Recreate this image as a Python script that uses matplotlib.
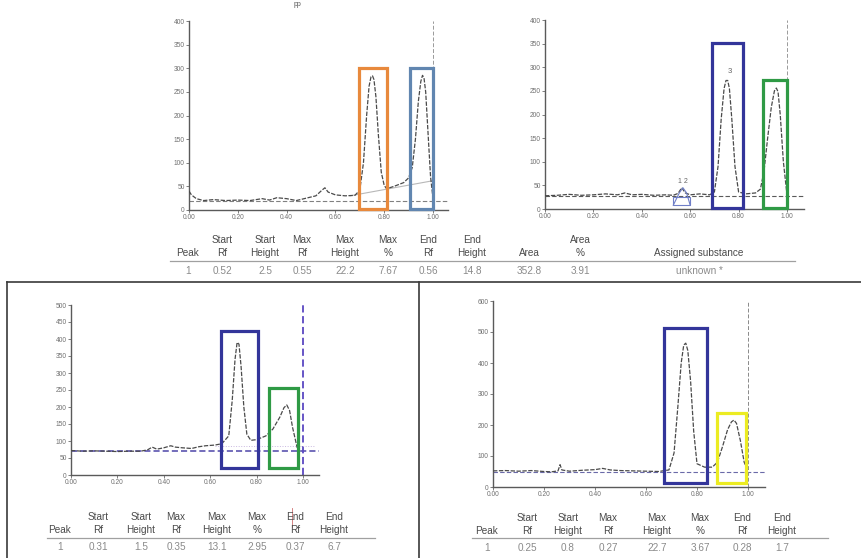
import matplotlib
matplotlib.use("Agg")
import matplotlib.pyplot as plt
import matplotlib.patches as mpatches

plt.rcParams['font.family'] = ['Liberation Sans', 'DejaVu Sans']

W, H = 862, 558

# ---- chromatogram traces (Rf, height) ----
# top left
rf_a = [0.00, 0.01, 0.03, 0.06, 0.10, 0.15, 0.20, 0.25, 0.30, 0.33, 0.36, 0.40, 0.44,
        0.48, 0.52, 0.545, 0.557, 0.57, 0.60, 0.64, 0.68, 0.70, 0.715, 0.728, 0.738, 0.746,
        0.752, 0.758, 0.766, 0.776, 0.788, 0.80, 0.81, 0.84, 0.88, 0.90, 0.915, 0.928,
        0.94, 0.95, 0.957, 0.963, 0.97, 0.98, 0.99, 1.00]
h_a = [40, 32, 24, 20, 22, 20, 21, 20, 24, 21, 26, 24, 20,
       25, 30, 42, 47, 38, 32, 30, 31, 42, 100, 200, 262, 282, 284, 276, 240, 160, 80, 52,
       45, 50, 58, 68, 90, 150, 230, 272, 285, 280, 250, 160, 70, 25]
rf_a2 = [0.66, 1.00]
h_a2 = [30, 62]
base_a = 19

# top right
rf_b = [0.00, 0.05, 0.10, 0.15, 0.20, 0.25, 0.30, 0.33, 0.36, 0.40, 0.45, 0.50, 0.53,
        0.55, 0.565, 0.58, 0.60, 0.64, 0.68, 0.70, 0.715, 0.728, 0.74, 0.748, 0.755, 0.762,
        0.772, 0.785, 0.80, 0.83, 0.87, 0.89, 0.905, 0.92, 0.935, 0.948, 0.956, 0.963,
        0.972, 0.985, 1.00]
h_b = [28, 29, 31, 29, 30, 32, 30, 34, 30, 31, 29, 30, 29,
       33, 45, 34, 30, 32, 30, 36, 90, 190, 255, 272, 272, 255, 190, 90, 36,
       32, 34, 42, 80, 150, 215, 250, 256, 248, 200, 100, 30]
base_b = 28

# bottom left
rf_c = [0.00, 0.05, 0.10, 0.15, 0.20, 0.25, 0.30, 0.33, 0.35, 0.37, 0.40, 0.43, 0.45,
        0.48, 0.52, 0.55, 0.58, 0.62, 0.65, 0.68, 0.695, 0.707, 0.716, 0.724, 0.733, 0.745,
        0.758, 0.775, 0.80, 0.84, 0.87, 0.90, 0.918, 0.93, 0.942, 0.955, 0.975]
h_c = [72, 70, 71, 70, 69, 70, 70, 74, 82, 76, 80, 86, 82,
       80, 78, 83, 86, 88, 92, 115, 220, 340, 390, 385, 320, 200, 120, 102,
       104, 115, 135, 170, 198, 206, 190, 140, 80]
base_c = 70
rf_c2 = [0.62, 1.05]
h_c2 = [86, 86]

# bottom right
rf_d = [0.00, 0.05, 0.10, 0.15, 0.20, 0.23, 0.255, 0.263, 0.27, 0.30, 0.35, 0.40, 0.43,
        0.46, 0.50, 0.55, 0.60, 0.65, 0.69, 0.71, 0.725, 0.738, 0.748, 0.756, 0.764, 0.775,
        0.787, 0.80, 0.83, 0.86, 0.88, 0.90, 0.92, 0.935, 0.945, 0.955, 0.97, 0.985, 1.00]
h_d = [52, 53, 51, 53, 50, 49, 52, 72, 55, 51, 54, 56, 60,
       55, 53, 52, 51, 50, 55, 110, 260, 400, 458, 464, 440, 340, 180, 75, 64,
       64, 80, 130, 185, 210, 216, 205, 150, 80, 52]
base_d = 48

# ---- boxes drawn on the traces: (Rf left, Rf right, bottom, top, colour) ----
boxes_a = [(0.695, 0.81, 2, 300, '#e8893c'), (0.905, 1.00, 2, 300, '#6186b0')]
boxes_b = [(0.69, 0.82, 2, 352, '#33359a'), (0.90, 1.00, 2, 272, '#2f9a45')]
boxes_c = [(0.647, 0.805, 20, 423, '#33359a'), (0.855, 0.977, 20, 257, '#2f9a45')]
boxes_d = [(0.671, 0.84, 14, 513, '#33359a'), (0.877, 0.992, 14, 238, '#ecec22')]

# ---- peak tables ----
top_cols = ['Peak', 'Start\nRf', 'Start\nHeight', 'Max\nRf', 'Max\nHeight', 'Max\n%',
            'End\nRf', 'End\nHeight', 'Area', 'Area\n%', 'Assigned substance']
top_vals = ['1', '0.52', '2.5', '0.55', '22.2', '7.67', '0.56', '14.8', '352.8', '3.91',
            'unknown *']
bl_cols = top_cols[:8]
bl_vals = ['1', '0.31', '1.5', '0.35', '13.1', '2.95', '0.37', '6.7']
br_cols = top_cols[:8]
br_vals = ['1', '0.25', '0.8', '0.27', '22.7', '3.67', '0.28', '1.7']

fig = plt.figure(figsize=(W / 100, H / 100), dpi=100)


def px_axes(x0, unit, xmax, ybot, ytop):
    # axes placed in pixel coordinates of the screenshot
    right = x0 + unit * xmax
    return fig.add_axes([x0 / W, 1 - ybot / H, (right - x0) / W, (ybot - ytop) / H])


def chrom(ax, rf, h, base, ymax, ystep, vcol, bcol, vlw=0.7, blw=0.8):
    ax.plot(rf, h, color='#4a4a4a', lw=0.9, ls=(0, (3.5, 1.2)), zorder=3)
    ax.axhline(base, color=bcol, lw=blw, ls=(0, (4, 2)), zorder=2)
    ax.axvline(1.0, color=vcol, lw=vlw, ls=(0, (4, 2)), zorder=2)
    ax.set_ylim(0, ymax)
    ax.set_yticks(range(0, ymax + 1, ystep))
    ax.set_xticks([0.0, 0.2, 0.4, 0.6, 0.8, 1.0])
    ax.set_xticklabels(['0.00', '0.20', '0.40', '0.60', '0.80', '1.00'])
    for s in ['top', 'right']:
        ax.spines[s].set_visible(False)
    for s in ['left', 'bottom']:
        ax.spines[s].set_color('#5a5a5a')
        ax.spines[s].set_linewidth(1.0)
    ax.tick_params(axis='both', labelsize=4.8, labelcolor='#707070', color='#6a6a6a',
                   length=2, width=0.6, pad=1)
    ax.patch.set_alpha(0)


def draw_boxes(ax, boxes):
    for x_l, x_r, y_b, y_t, c in boxes:
        ax.add_patch(mpatches.Rectangle((x_l, y_b), x_r - x_l, y_t - y_b, fill=False,
                                        edgecolor=c, lw=2.3, zorder=4, clip_on=False))


def table(cols, vals, xs, y1, y2, yline, yval, xl0, xl1):
    for c, v, x in zip(cols, vals, xs):
        parts = c.split('\n')
        if len(parts) == 2:
            fig.text(x / W, 1 - y1 / H, parts[0], ha='center', va='center', fontsize=7.2,
                     color='#4a4a4a')
        fig.text(x / W, 1 - y2 / H, parts[-1], ha='center', va='center', fontsize=7.2,
                 color='#4a4a4a')
        fig.text(x / W, 1 - yval / H, v, ha='center', va='center', fontsize=7.2,
                 color='#8a8a8a')
    fig.add_artist(plt.Line2D([xl0 / W, xl1 / W], [1 - yline / H, 1 - yline / H],
                              color='#a0a0a0', lw=0.9))


# top left
ax1 = px_axes(189, 244, 1.06, 210, 21)
ax1.set_xlim(0, 1.06)
chrom(ax1, rf_a, h_a, base_a, 400, 50, '#9a9a9a', '#808080')
ax1.plot(rf_a2, h_a2, color='#b8b8b8', lw=0.8, zorder=2)
draw_boxes(ax1, boxes_a)

# top right
ax2 = px_axes(545, 242, 1.07, 209, 20)
ax2.set_xlim(0, 1.07)
chrom(ax2, rf_b, h_b, base_b, 400, 50, '#9a9a9a', '#5a5a5a')
ax2.plot([0.53, 0.555, 0.57, 0.585, 0.60], [8, 34, 45, 34, 8], color='#6f7fc8', lw=0.8,
         zorder=3)
ax2.add_patch(mpatches.Rectangle((0.53, 8), 0.07, 17, fill=False, edgecolor='#6f7fc8',
                                 lw=0.8, zorder=3))
ax2.text(0.57, 58, '1 2', fontsize=5, color='#666666', ha='center', va='center')
ax2.text(0.762, 292, '3', fontsize=5.5, color='#666666', ha='center', va='center')
draw_boxes(ax2, boxes_b)

# bottom left
ax3 = px_axes(71, 232, 1.07, 475, 305)
ax3.set_xlim(0, 1.07)
chrom(ax3, rf_c, h_c, base_c, 500, 50, '#5b48c2', '#4d45a8', vlw=1.3, blw=1.1)
ax3.plot(rf_c2, h_c2, color='#c9b8e0', lw=0.7, ls=':', zorder=2)
draw_boxes(ax3, boxes_c)

# bottom right
ax4 = px_axes(493, 255, 1.067, 487, 301)
ax4.set_xlim(0, 1.067)
chrom(ax4, rf_d, h_d, base_d, 600, 100, '#8a8a8a', '#6a6aa8')
draw_boxes(ax4, boxes_d)

# tables
table(top_cols, top_vals, [188, 222, 265, 302, 345, 388, 428, 472, 529, 580, 699],
      240, 253, 261, 271, 170, 795)
table(bl_cols, bl_vals, [60, 98, 141, 176, 217, 257, 295, 334], 517, 530, 538, 547, 47, 375)
table(br_cols, br_vals, [487, 527, 568, 608, 657, 700, 742, 782], 518, 531, 538, 548, 472,
      828)

# little cursor mark in the lower left table
fig.add_artist(plt.Line2D([292 / W, 292 / W], [1 - 508 / H, 1 - 527 / H], color='#d07070',
                          lw=0.6))

# frame lines of the lower screenshots
frame = '#3a3a3a'
fig.add_artist(plt.Line2D([7 / W, 1.0], [1 - 282 / H, 1 - 282 / H], color=frame, lw=1.2))
fig.add_artist(plt.Line2D([7 / W, 7 / W], [1 - 282 / H, 0], color=frame, lw=1.2))
fig.add_artist(plt.Line2D([419 / W, 419 / W], [1 - 282 / H, 0], color=frame, lw=1.2))

# remnant of a caption at the very top edge
fig.text(297 / W, 1 - 1 / H, 'pp', ha='center', va='top', fontsize=5, color='#555555')

fig.savefig('out.png', dpi=100)
